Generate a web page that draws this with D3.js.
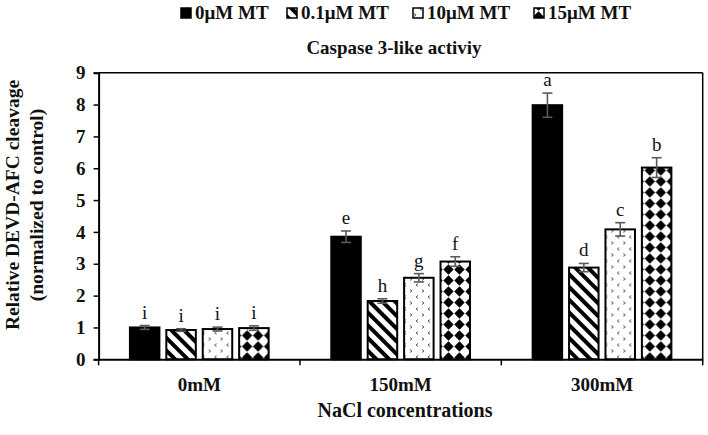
<!DOCTYPE html>
<html>
<head>
<meta charset="utf-8">
<script src="https://cdn.jsdelivr.net/npm/d3@7/dist/d3.min.js"></script>
<style>
  html, body { margin: 0; padding: 0; background: #fff; }
  svg text { font-family: "Liberation Serif", "Times New Roman", serif; }
</style>
</head>
<body>
<svg id="chart" width="708" height="435"></svg>
<script>
const categories = ["0mM", "150mM", "300mM"];
const seriesNames = ["0μM MT", "0.1μM MT", "10μM MT", "15μM MT"];
const values = [
  [1.00, 3.85, 7.98],
  [0.92, 1.83, 2.88],
  [0.95, 2.56, 4.08],
  [0.98, 3.07, 6.02]
];
const errors = [
  [0.06, 0.18, 0.38],
  [0.04, 0.07, 0.13],
  [0.06, 0.13, 0.21],
  [0.07, 0.15, 0.31]
];
const letters = [
  ["i", "e", "a"],
  ["i", "h", "d"],
  ["i", "g", "c"],
  ["i", "f", "b"]
];
const yTicks = [0, 1, 2, 3, 4, 5, 6, 7, 8, 9];
const title = "Caspase 3-like activiy";
const yLabel = ["Relative DEVD-AFC cleavage", "(normalized to control)"];
const xLabel = "NaCl concentrations";

const svg = d3.select("#chart");
const pLeft = 98.6, pRight = 702.7, pTop = 72.7, pBottom = 359.3;

const x0 = d3.scaleBand().domain(categories).range([pLeft, pRight]).padding(0);
const x1 = d3.scaleBand().domain(d3.range(seriesNames.length)).range([0, x0.bandwidth()])
  .paddingInner(0.19).paddingOuter(0.86);
const y = d3.scaleLinear().domain([0, 9]).range([pBottom, pTop]);

// patterns
const defs = svg.append("defs");
const fills = ["#000"];
const p1 = defs.append("pattern").attr("id", "stripes").attr("patternUnits", "userSpaceOnUse")
  .attr("width", 9).attr("height", 9).attr("patternTransform", "rotate(45)");
p1.append("rect").attr("width", 9).attr("height", 9).attr("fill", "#fff");
p1.append("rect").attr("x", 0).attr("y", 0).attr("width", 9).attr("height", 4).attr("fill", "#000");
fills.push("url(#stripes)");
const p2 = defs.append("pattern").attr("id", "chev").attr("patternUnits", "userSpaceOnUse")
  .attr("width", 12).attr("height", 12);
p2.append("rect").attr("width", 12).attr("height", 12).attr("fill", "#fff");
p2.append("path").attr("d", "M2,1.5 L4,3 L2,4.5").attr("fill", "none").attr("stroke", "#555").attr("stroke-width", 1);
p2.append("path").attr("d", "M10,7.5 L8,9 L10,10.5").attr("fill", "none").attr("stroke", "#555").attr("stroke-width", 1);
fills.push("url(#chev)");
const p3 = defs.append("pattern").attr("id", "diam").attr("patternUnits", "userSpaceOnUse")
  .attr("width", 11).attr("height", 11).attr("x", 0).attr("y", 0);
p3.append("rect").attr("width", 11).attr("height", 11).attr("fill", "#fff");
p3.append("path").attr("d", "M5.5,0.3 L10.7,5.5 L5.5,10.7 L0.3,5.5 Z").attr("fill", "#000");
fills.push("url(#diam)");

// frame top and right
svg.append("line").attr("x1", pLeft).attr("x2", pRight).attr("y1", pTop).attr("y2", pTop)
  .attr("stroke", "#000").attr("stroke-width", 1.5);
svg.append("line").attr("x1", pRight).attr("x2", pRight).attr("y1", pTop).attr("y2", pBottom)
  .attr("stroke", "#000").attr("stroke-width", 1.5);

// bars
const groups = svg.append("g").selectAll("g").data(categories).join("g")
  .attr("transform", d => `translate(${x0(d)},0)`);
groups.each(function(cat, ci) {
  const g = d3.select(this);
  seriesNames.forEach((s, si) => {
    const v = values[si][ci], e = errors[si][ci];
    const bx = x1(si), bw = x1.bandwidth();
    g.append("rect").attr("x", bx).attr("y", y(v)).attr("width", bw).attr("height", y(0) - y(v))
      .attr("fill", fills[si]).attr("stroke", "#000").attr("stroke-width", 2);
    const cx = bx + bw / 2;
    g.append("line").attr("x1", cx).attr("x2", cx).attr("y1", y(v + e)).attr("y2", y(v - e))
      .attr("stroke", "#5a5a5a").attr("stroke-width", 1.6);
    [v + e, v - e].forEach(t => g.append("line").attr("x1", cx - 5).attr("x2", cx + 5)
      .attr("y1", y(t)).attr("y2", y(t)).attr("stroke", "#5a5a5a").attr("stroke-width", 1.6));
    g.append("text").attr("x", cx).attr("y", y(v + e) - 7).attr("text-anchor", "middle")
      .attr("font-size", 19).attr("fill", "#111").text(letters[si][ci]);
  });
});

// y axis
const yAxis = svg.append("g").attr("transform", `translate(${pLeft},0)`)
  .call(d3.axisLeft(y).tickValues(yTicks).tickFormat(d3.format("d")).tickSizeOuter(0).tickSize(5).tickPadding(8));
yAxis.select(".domain").attr("stroke", "#000").attr("stroke-width", 2);
yAxis.selectAll(".tick line").attr("stroke", "#000").attr("stroke-width", 1.5);
yAxis.selectAll(".tick text").attr("font-size", 19).attr("font-weight", "bold").attr("fill", "#111")
  .style("font-family", "'Liberation Serif', serif");

// x axis
const xAxis = svg.append("g").attr("transform", `translate(0,${pBottom})`)
  .call(d3.axisBottom(x0).tickSize(0).tickPadding(18));
xAxis.select(".domain").attr("stroke", "#000").attr("stroke-width", 2);
xAxis.selectAll(".tick text").attr("font-size", 19).attr("font-weight", "bold").attr("fill", "#111")
  .style("font-family", "'Liberation Serif', serif");
const bounds = categories.map(c => x0(c)).concat([pRight]);
xAxis.selectAll(".bnd").data(bounds).join("line").attr("class", "bnd")
  .attr("x1", d => d).attr("x2", d => d).attr("y1", 0).attr("y2", 6)
  .attr("stroke", "#000").attr("stroke-width", 1.5);

// titles
svg.append("text").attr("x", 394).attr("y", 54).attr("text-anchor", "middle")
  .attr("font-size", 19).attr("font-weight", "bold").attr("fill", "#111").text(title);
svg.append("text").attr("x", 405).attr("y", 417).attr("text-anchor", "middle")
  .attr("font-size", 20).attr("font-weight", "bold").attr("fill", "#111").text(xLabel);
yLabel.forEach((t, i) => {
  svg.append("text").attr("transform", `translate(${19 + i * 24},205) rotate(-90)`)
    .attr("text-anchor", "middle").attr("font-size", 19.5).attr("font-weight", "bold")
    .attr("fill", "#111").text(t);
});

// legend
const legX = [180, 286, 412, 533];
const leg = svg.append("g");
seriesNames.forEach((s, i) => {
  const g = leg.append("g").attr("transform", `translate(${legX[i]},0)`);
  g.append("rect").attr("x", 1).attr("y", 8).attr("width", 10).attr("height", 10)
    .attr("fill", fills[i]).attr("stroke", "#000").attr("stroke-width", 1.5);
  g.append("text").attr("x", 15).attr("y", 19).attr("font-size", 19).attr("font-weight", "bold")
    .attr("fill", "#111").text(s);
});
</script>
</body>
</html>
